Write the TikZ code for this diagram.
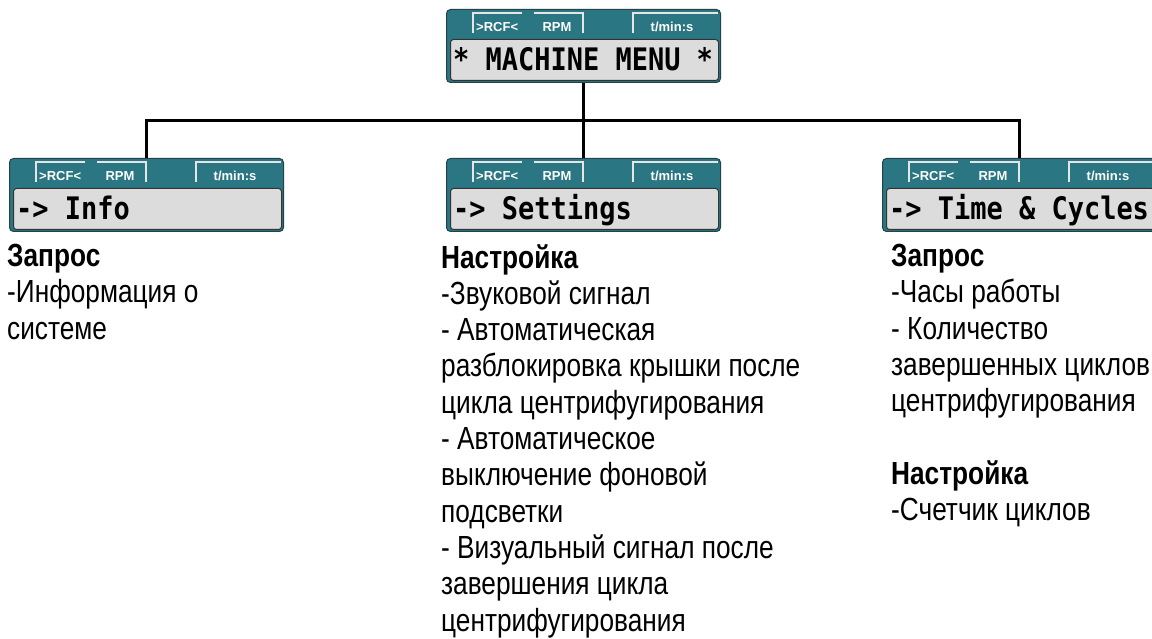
\documentclass[tikz,border=0pt]{standalone}
\usepackage{fontspec}
\setmainfont{Liberation Sans}
\newfontfamily\narrowsans[FakeStretch=0.82]{Liberation Sans}
\newfontfamily\lcdmono[FakeStretch=0.87]{DejaVu Sans Mono}
\usetikzlibrary{positioning,calc}
\definecolor{lcdteal}{HTML}{2A7682}
\definecolor{lcdedge}{HTML}{22434A}
\definecolor{lcdgrey}{HTML}{DCDCDC}
\definecolor{tabline}{HTML}{E6E6E6}
% screen, tabs and labels of one display, drawn on panel node #1
\newcommand{\lcdpanel}[2]{%
  \node[screen, anchor=south west] (#1-scr) at ([xshift=4pt, yshift=2pt]#1.south west) {};
  \node[lcdtext, anchor=base west] (#1-txt) at ([xshift=3pt, yshift=10pt]#1-scr.south west) {#2};
  \draw[tab] ([xshift=27pt, yshift=-24pt]#1.north west) |- ([xshift=76pt, yshift=-4pt]#1.north west);
  \draw[tab] ([xshift=88pt, yshift=-4pt]#1.north west) -| ([xshift=137pt, yshift=-24pt]#1.north west);
  \draw[tab] ([xshift=187pt, yshift=-24pt]#1.north west) |- ([xshift=272pt, yshift=-4pt]#1.north west);
  \node[tablab, anchor=base west] (#1-rcf) at ([xshift=30pt, yshift=-23pt]#1.north west) {>RCF<};
  \node[tablab, anchor=base] (#1-rpm) at ([xshift=111pt, yshift=-23pt]#1.north west) {RPM};
  \node[tablab, anchor=base] (#1-time) at ([xshift=226pt, yshift=-23pt]#1.north west) {t/min:s};
}

\begin{document}
\begin{tikzpicture}[x=1pt, y=-1pt,
    panel/.style={draw=lcdedge, fill=lcdteal, rounded corners=4pt, line width=1pt,
      minimum width=274pt, minimum height=73pt, inner sep=0, anchor=north west},
    screen/.style={draw=black!80, fill=lcdgrey, rounded corners=3pt, line width=1pt,
      minimum width=268pt, minimum height=41pt, inner sep=0},
    lcdtext/.style={font=\lcdmono\bfseries\fontsize{31}{31}\selectfont, inner sep=0},
    tablab/.style={font=\bfseries\fontsize{13}{15}\selectfont, text=white, inner sep=0},
    tab/.style={draw=tabline, line width=1.5pt},
    wire/.style={line width=2.5pt},
    desc/.style={font=\narrowsans\fontsize{32}{36.3}\selectfont, align=left,
      anchor=north west, inner sep=0}]
  \useasboundingbox (0,0) rectangle (1152,639);
  \node[panel] (menu) at (446,9) {};
  \node[panel] (info) at (9,158) {};
  \node[panel] (settings) at (446,158) {};
  \node[panel] (cycles) at (882,158) {};
  \lcdpanel{menu}{* MACHINE MENU *}
  \lcdpanel{info}{-> Info}
  \lcdpanel{settings}{-> Settings}
  \lcdpanel{cycles}{-> Time \& Cycles}
  \coordinate (bus) at ($(menu.south)!0.5!(settings.north)$);
  \draw[wire] (menu.south) -- (bus);
  \draw[wire] (info.north) |- (bus) -| (cycles.north);
  \draw[wire] (bus) -- (settings.north);
  \node[desc] (info-desc) at (7,244) {\textbf{Запрос}\\-Информация о\\системе};
  \node[desc] (settings-desc) at (441,244) {\textbf{Настройка}\\-Звуковой сигнал\\- Автоматическая\\
    разблокировка крышки после\\цикла центрифугирования\\- Автоматическое\\
    выключение фоновой\\подсветки\\- Визуальный сигнал после\\завершения цикла\\
    центрифугирования};
  \node[desc] (cycles-desc) at (891,244) {\textbf{Запрос}\\-Часы работы\\- Количество\\
    завершенных циклов\\центрифугирования\\[36.3pt]\textbf{Настройка}\\-Счетчик циклов};
\end{tikzpicture}
\end{document}
